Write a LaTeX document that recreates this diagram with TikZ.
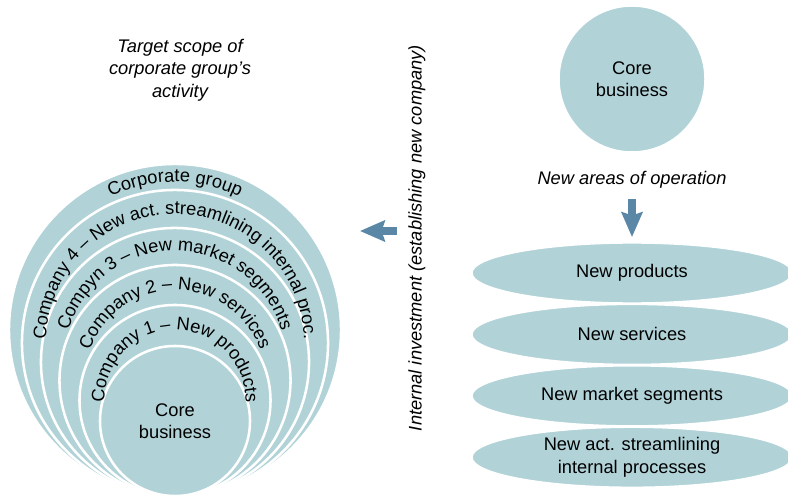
\documentclass[tikz,border=0pt]{standalone}
\usepackage{fontspec}
\setmainfont{Liberation Sans}
\usetikzlibrary{arrows.meta, shapes.geometric, decorations.text, positioning}
\definecolor{scopefill}{HTML}{B1D3D8}
\definecolor{arrowblue}{HTML}{5A87A6}
\newcommand{\ringfont}{\fontsize{13}{16}\selectfont}

\begin{document}
\begin{tikzpicture}[x=0.025cm, y=0.025cm, font=\ringfont,
	ring/.style={circle, fill=scopefill, draw=white, line width=1.8pt, inner sep=0pt},
	oval/.style={ellipse, fill=scopefill, draw=white, line width=1pt, minimum width=8cm, minimum height=1.5cm, inner sep=0pt, align=center},
	bigarrow/.style={arrowblue, line width=0.2cm, -{Stealth[length=0.62cm, width=0.52cm, inset=0.08cm]}},
	ringtext/.style={decorate, decoration={text along path, text align=center, text={|\ringfont|#1}}}]
	\useasboundingbox (0,0) rectangle (788,494);
	
	% corporate group, rings touching at the bottom
	\node[ring, minimum size=8.3cm] (corp) at (175,164) {};
	\node[ring, minimum size=7.65cm] (co4) at (175,151) {};
	\node[ring, minimum size=6.7cm] (co3) at (175,132) {};
	\node[ring, minimum size=5.775cm] (co2) at (175,113.5) {};
	\node[ring, minimum size=4.775cm] (co1) at (175,93.5) {};
	\node[ring, minimum size=3.75cm, align=center] (core) at (175,73) {Core\\business};
	
	\path[ringtext=Corporate group] (corp.center) ++(200:148) arc[start angle=200, end angle=-20, radius=148];
	\path[ringtext=Company 4 – New act. streamlining internal proc.] (co4.center) ++(200:129) arc[start angle=200, end angle=-20, radius=129];
	\path[ringtext=Compyn 3 – New market segments] (co3.center) ++(200:111) arc[start angle=200, end angle=-20, radius=111];
	\path[ringtext=Company 2 – New services] (co2.center) ++(200:90.5) arc[start angle=200, end angle=-20, radius=90.5];
	\path[ringtext=Company 1 – New products] (co1.center) ++(200:70.5) arc[start angle=200, end angle=-20, radius=70.5];
	
	\node[font=\ringfont\itshape, align=center] (scope) at (180,424) {Target scope of\\corporate group’s\\activity};
	\node[rotate=90, font=\ringfont\itshape] (invest) at (417,256) {Internal investment (establishing new company)};
	
	% core business and new areas
	\node[ring, minimum size=3.675cm, align=center] (rcore) at (632,415) {Core\\business};
	\node[font=\ringfont\itshape] (ops) at (632,314) {New areas of operation};
	
	\node[oval] (prod) at (632,221) {New products};
	\node[oval] (serv) [below=0pt of prod] {New services};
	\node[oval] (seg) [below=0pt of serv] {New market segments};
	\node[oval] (proc) [below=0pt of seg] {New act. streamlining\\internal processes};
	
	\coordinate (invStart) at (397,263);
	\draw[bigarrow, shorten >=0.44cm] (invStart) -- (invStart -| corp.east);
	\draw[bigarrow, shorten <=0.135cm, shorten >=0.13cm] (ops) -- (prod);
\end{tikzpicture}
\end{document}
